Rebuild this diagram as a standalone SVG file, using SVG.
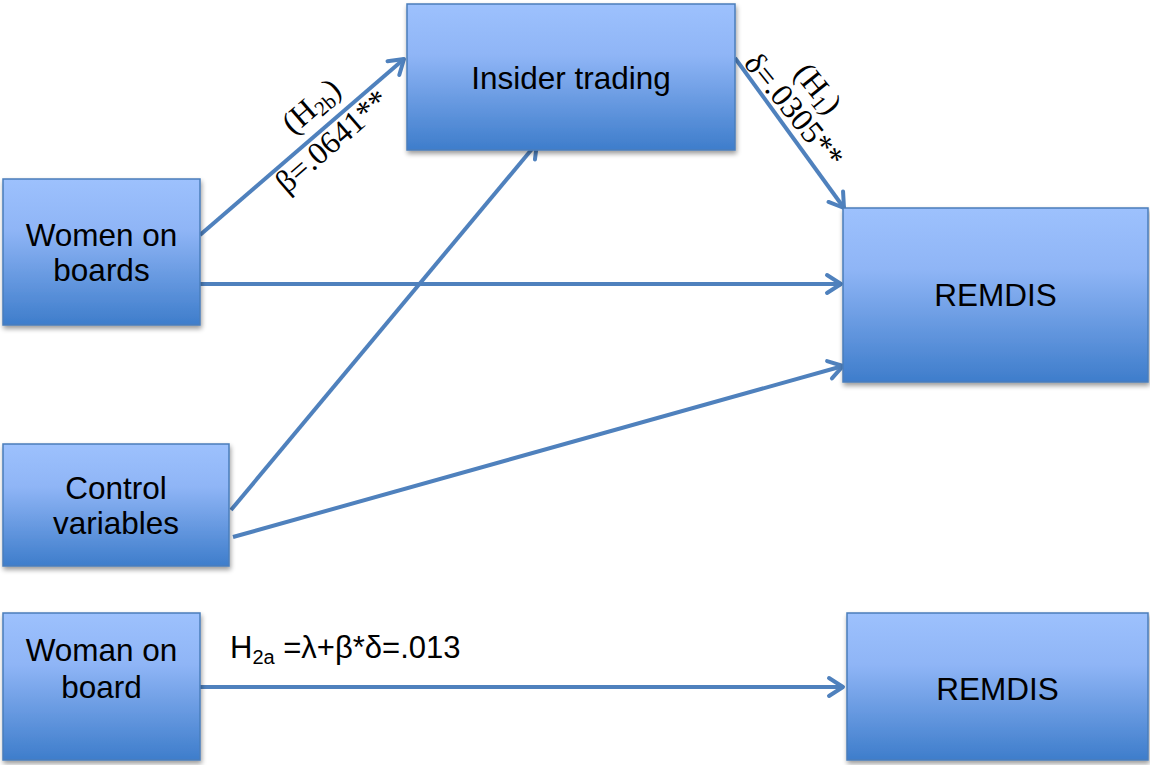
<svg xmlns="http://www.w3.org/2000/svg" width="1150" height="765" viewBox="0 0 1150 765">
<defs>
<linearGradient id="bg" x1="0" y1="0" x2="0" y2="1">
<stop offset="0" stop-color="#9dc1fd"/>
<stop offset="0.35" stop-color="#8fb5f6"/>
<stop offset="1" stop-color="#3e7dcb"/>
</linearGradient>
<filter id="sh" x="-10%" y="-10%" width="120%" height="130%">
<feGaussianBlur in="SourceAlpha" stdDeviation="2.5"/>
<feOffset dx="1" dy="3" result="b"/>
<feComponentTransfer><feFuncA type="linear" slope="0.4"/></feComponentTransfer>
<feMerge><feMergeNode/><feMergeNode in="SourceGraphic"/></feMerge>
</filter>
<marker id="arr" markerUnits="userSpaceOnUse" markerWidth="24" markerHeight="24" viewBox="0 0 24 24" refX="20" refY="12" orient="auto">
<path d="M6,3 L20,12 L6,21" fill="none" stroke="#4f81bd" stroke-width="4" stroke-linecap="round" stroke-linejoin="round"/>
</marker>
</defs>
<style>
.box{fill:url(#bg);stroke:#4a7ebb;stroke-width:1.5;filter:url(#sh)}
.lbl{font-family:"Liberation Sans",Arial,sans-serif;font-size:31.5px;fill:#000;text-anchor:middle}
.conn{stroke:#4f81bd;stroke-width:4;fill:none;marker-end:url(#arr)}
.tm{font-family:"Liberation Serif","Times New Roman",serif;font-size:32px;fill:#000;text-anchor:middle}
.eq{font-family:"Liberation Sans",Arial,sans-serif;font-size:31px;fill:#000}
</style>
<rect width="1150" height="765" fill="#fff"/>
<g id="connectors">
<line class="conn" x1="200" y1="235" x2="404" y2="59"/>
<line class="conn" x1="200" y1="284" x2="841" y2="284"/>
<line class="conn" x1="231" y1="510" x2="537" y2="143"/>
<line class="conn" x1="233" y1="537" x2="843" y2="366"/>
<line class="conn" x1="735" y1="58" x2="844" y2="208"/>
<line class="conn" x1="200" y1="687" x2="843" y2="687"/>
</g>
<g id="node-insider">
<rect class="box" x="407" y="4" width="328" height="146"/>
<text class="lbl" x="571" y="89">Insider trading</text>
</g>
<g id="node-women">
<rect class="box" x="3" y="179" width="197" height="146"/>
<text class="lbl" x="101.5" y="246">Women on</text>
<text class="lbl" x="101.5" y="281">boards</text>
</g>
<g id="node-control">
<rect class="box" x="3" y="444" width="226" height="122"/>
<text class="lbl" x="116" y="499">Control</text>
<text class="lbl" x="116" y="534">variables</text>
</g>
<g id="node-remdis1">
<rect class="box" x="843" y="208" width="305" height="174"/>
<text class="lbl" x="995.5" y="306">REMDIS</text>
</g>
<g id="node-woman">
<rect class="box" x="3" y="613" width="197" height="147"/>
<text class="lbl" x="101.5" y="661">Woman on</text>
<text class="lbl" x="101.5" y="698">board</text>
</g>
<g id="node-remdis2">
<rect class="box" x="847" y="613" width="301" height="147"/>
<text class="lbl" x="997.5" y="700">REMDIS</text>
</g>
<g id="labels">
<text class="tm" x="318" y="114" transform="rotate(-41 318 114)">(H<tspan font-size="21" dy="5">2b</tspan><tspan dy="-5">)</tspan></text>
<text class="tm" x="339" y="149" transform="rotate(-41 339 149)">β=.0641**</text>
<text class="tm" x="786" y="117" transform="rotate(51 786 117)">δ=.0305**</text>
<text class="tm" x="810" y="95" transform="rotate(51 810 95)">(H<tspan font-size="21" dy="5">1</tspan><tspan dy="-5">)</tspan></text>
<text class="eq" x="230" y="658">H<tspan font-size="20" dy="6">2a</tspan><tspan dy="-6"> =λ+β*δ=.013</tspan></text>
</g>
</svg>
